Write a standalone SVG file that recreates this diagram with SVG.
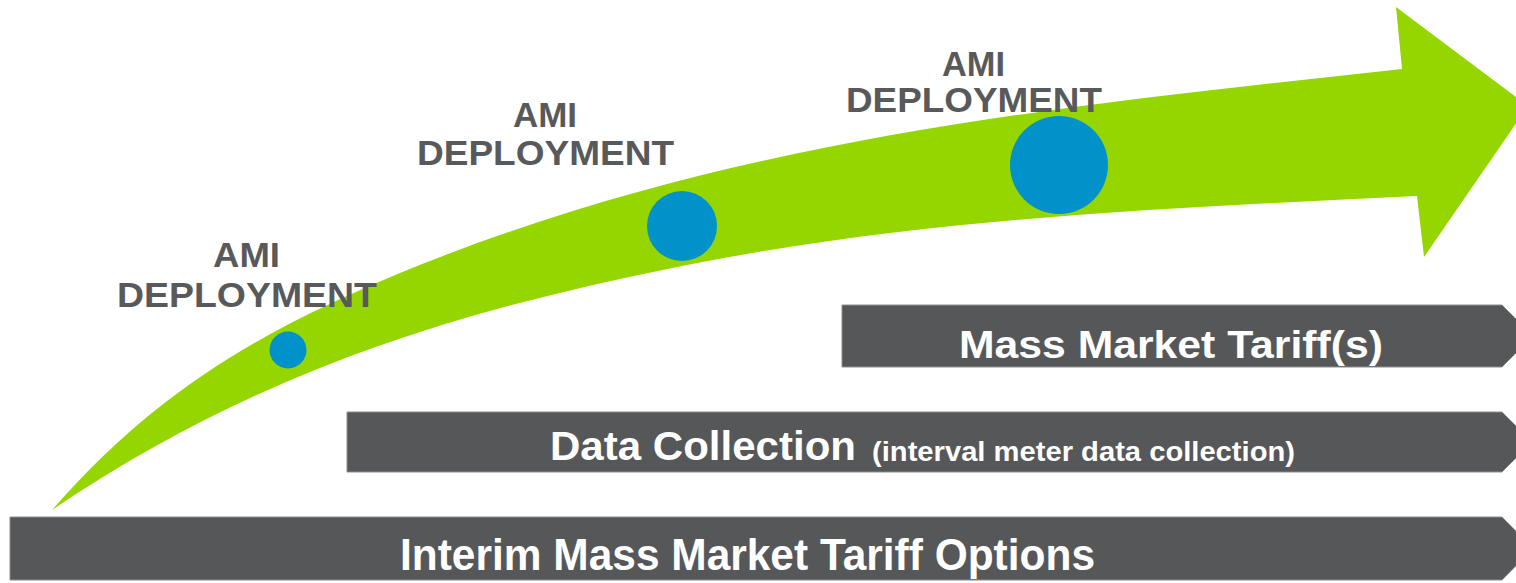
<svg xmlns="http://www.w3.org/2000/svg" width="1516" height="583" viewBox="0 0 1516 583">
<style>
.bar{fill:#555759;stroke:#8c8d8f;stroke-width:1}
.dot{fill:#0092c8}
.lbl{font-family:"Liberation Sans",Arial,sans-serif;font-weight:bold;fill:#58595b;font-size:35px}
.btxt{font-family:"Liberation Sans",Arial,sans-serif;font-weight:bold;fill:#ffffff}
</style>
<rect width="1516" height="583" fill="#ffffff"/>
<g id="growth-arrow">
<path fill="#95d600" d="M52,510 C168,377 284,322 400,273 C734,136 1068,106 1402,69 L1396,7 L1528,106 L1424,257 L1417,196 C1172,208 927,217 682,266 C472,308 262,367 52,510 Z"/>
</g>
<g id="connectors"></g>
<g id="ami-1">
<circle class="dot" cx="288" cy="350" r="18.5"/>
<text class="lbl" x="213" y="267" textLength="67" lengthAdjust="spacingAndGlyphs">AMI</text>
<text class="lbl" x="117" y="307" textLength="260" lengthAdjust="spacingAndGlyphs">DEPLOYMENT</text>
</g>
<g id="ami-2">
<circle class="dot" cx="682" cy="226" r="35"/>
<text class="lbl" x="513" y="127" textLength="64" lengthAdjust="spacingAndGlyphs">AMI</text>
<text class="lbl" x="417" y="165" textLength="257" lengthAdjust="spacingAndGlyphs">DEPLOYMENT</text>
</g>
<g id="ami-3">
<circle class="dot" cx="1059" cy="165" r="49"/>
<text class="lbl" x="942" y="76" textLength="63" lengthAdjust="spacingAndGlyphs">AMI</text>
<text class="lbl" x="846" y="112" textLength="256" lengthAdjust="spacingAndGlyphs">DEPLOYMENT</text>
</g>
<g id="bar-mass-market">
<polygon class="bar" points="842,305 1502,305 1533,336 1502,367 842,367"/>
<text class="btxt" x="959" y="358" font-size="39" textLength="424" lengthAdjust="spacingAndGlyphs">Mass Market Tariff(s)</text>
</g>
<g id="bar-data-collection">
<polygon class="bar" points="347,412 1502,412 1532,442 1502,472 347,472"/>
<text class="btxt" x="550" y="460" font-size="40" textLength="306" lengthAdjust="spacingAndGlyphs">Data Collection</text>
<text class="btxt" x="872" y="461" font-size="27" textLength="423" lengthAdjust="spacingAndGlyphs">(interval meter data collection)</text>
</g>
<g id="bar-interim">
<polygon class="bar" points="10,517 1502,517 1533,548.5 1502,580 10,580"/>
<text class="btxt" x="400" y="570" font-size="45" textLength="695" lengthAdjust="spacingAndGlyphs">Interim Mass Market Tariff Options</text>
</g>
</svg>
